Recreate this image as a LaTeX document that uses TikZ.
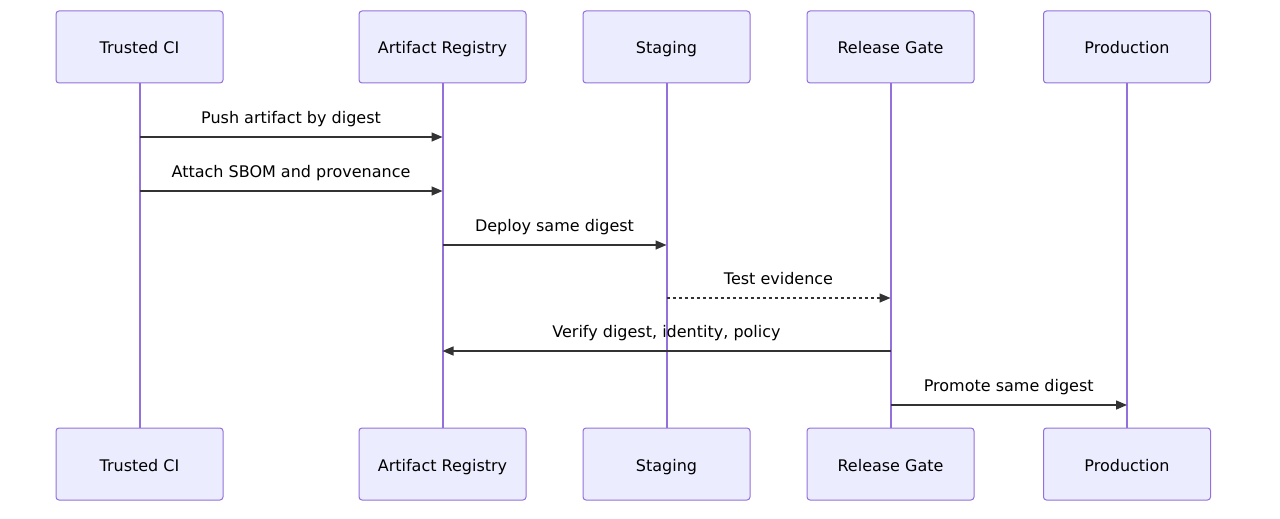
\documentclass[tikz,border=0pt]{standalone}
\usepackage{fontspec}
\setmainfont{DejaVu Sans}
\usetikzlibrary{arrows.meta}
\definecolor{actfill}{HTML}{ECECFF}
\definecolor{actline}{HTML}{9370DB}
\definecolor{msgcol}{HTML}{333333}
\begin{document}
\begin{tikzpicture}[x=1pt,y=-1pt,
  actor/.style={draw=actline,fill=actfill,line width=1pt,rounded corners=3pt,minimum width=167pt,minimum height=72pt,inner sep=0pt,font=\fontsize{16}{19}\selectfont,text=black,text height=17pt,text depth=3pt},
  life/.style={draw=actline,line width=2pt},
  msg/.style={draw=msgcol,line width=1.5pt,-{Triangle[length=11pt,width=9pt]}},
  msgd/.style={msg,dash pattern=on 3pt off 3pt},
  lbl/.style={font=\fontsize{16}{19}\selectfont,text=black,inner sep=0pt,anchor=base}]
\useasboundingbox (0,0) rectangle (1280,519);
\node[actor] (t1) at (139.5,47) {Trusted CI};
\node[actor] (a1) at (442.5,47) {Artifact Registry};
\node[actor] (s1) at (666.5,47) {Staging};
\node[actor] (r1) at (890.5,47) {Release Gate};
\node[actor] (p1) at (1127,47) {Production};
\node[actor] (t2) at (139.5,464) {Trusted CI};
\node[actor] (a2) at (442.5,464) {Artifact Registry};
\node[actor] (s2) at (666.5,464) {Staging};
\node[actor] (r2) at (890.5,464) {Release Gate};
\node[actor] (p2) at (1127,464) {Production};
\draw[life] (t1.south) -- (t2.north);
\draw[life] (a1.south) -- (a2.north);
\draw[life] (s1.south) -- (s2.north);
\draw[life] (r1.south) -- (r2.north);
\draw[life] (p1.south) -- (p2.north);
% message anchors
\foreach \n/\x in {t/139.5,a/442.5,s/666.5,r/890.5,p/1127}{
  \foreach \i/\y in {1/137,2/191,3/245,4/298,5/351,6/405}{
    \coordinate (\n m\i) at (\x,\y);
  }
}
\draw[msg] (tm1) -- (am1) node[lbl,midway,yshift=14pt] (l1) {Push artifact by digest};
\draw[msg] (tm2) -- (am2) node[lbl,midway,yshift=14pt] (l2) {Attach SBOM and provenance};
\draw[msg] (am3) -- (sm3) node[lbl,midway,yshift=14pt] (l3) {Deploy same digest};
\draw[msgd] (sm4) -- (rm4) node[lbl,midway,yshift=14pt] (l4) {Test evidence};
\draw[msg] (rm5) -- (am5) node[lbl,midway,yshift=14pt] (l5) {Verify digest, identity, policy};
\draw[msg] (rm6) -- (pm6) node[lbl,midway,yshift=14pt] (l6) {Promote same digest};
\end{tikzpicture}
\end{document}
